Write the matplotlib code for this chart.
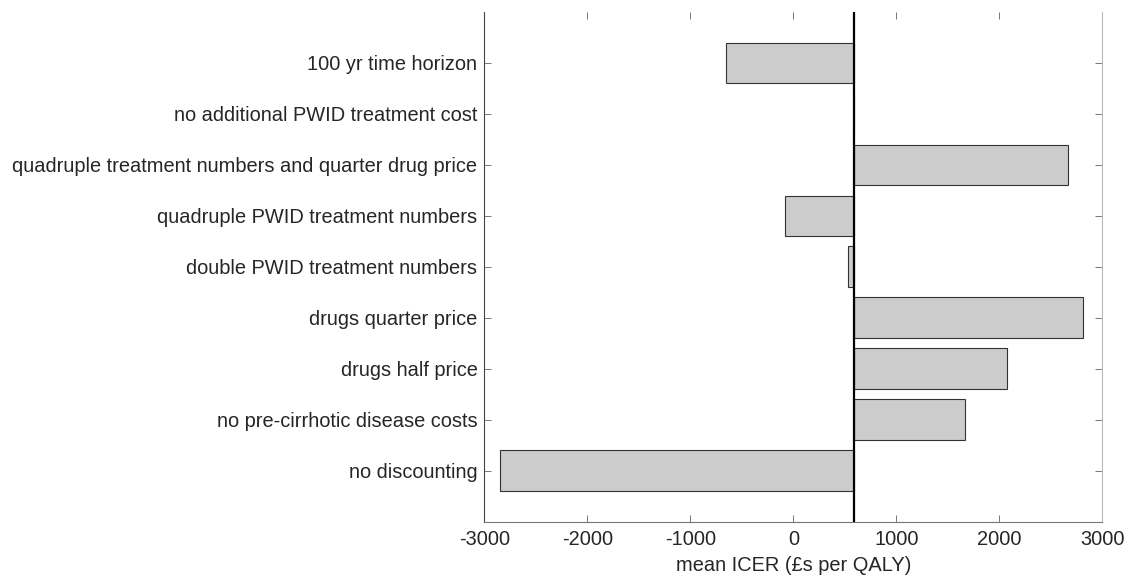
import numpy as np
import matplotlib
matplotlib.use('Agg')
import matplotlib.pyplot as plt

# scenarios listed bottom to top
scenarios = ['no discounting',
             'no pre-cirrhotic disease costs',
             'drugs half price',
             'drugs quarter price',
             'double PWID treatment numbers',
             'quadruple PWID treatment numbers',
             'quadruple treatment numbers and quarter drug price',
             'no additional PWID treatment cost',
             '100 yr time horizon']
icer = [-2845, 1666, 2075, 2811, 533, -77, 2665, 593, -652]
base_icer = 593
xticks = [-3000, -2000, -1000, 0, 1000, 2000, 3000]

plt.rcParams['font.family'] = ['Liberation Sans', 'DejaVu Sans']
plt.rcParams['axes.unicode_minus'] = False

fig = plt.figure(figsize=(11.29, 5.83), dpi=100)
ax = fig.add_axes([0.429, 0.1051, 0.9764 - 0.429, 0.9794 - 0.1051])

pos = np.arange(1, len(scenarios) + 1)
widths = np.array(icer) - base_icer
ax.barh(pos, widths, left=base_icer, height=0.8, color='#cccccc',
        edgecolor='#333333', linewidth=0.8, zorder=2)
ax.axvline(base_icer, color='black', linewidth=1.6, zorder=3)

ax.set_xlim(-3000, 3000)
ax.set_ylim(0, 10)
ax.set_xticks(xticks)
ax.set_yticks(pos)
ax.set_yticklabels(scenarios)
ax.set_xlabel('mean ICER (£s per QALY)', fontsize=14.4, color='#262626', labelpad=5)

ax.tick_params(axis='both', direction='in', length=5, width=0.7, labelsize=14.4,
               colors='#777777', labelcolor='#262626', pad=5)
ax.tick_params(axis='x', top=True, pad=6)
ax.tick_params(axis='y', right=True)

ax.spines['top'].set_visible(False)
ax.spines['left'].set_color('#444444')
ax.spines['bottom'].set_color('#777777')
ax.spines['right'].set_color('#bbbbbb')
for s in ax.spines.values():
    s.set_linewidth(0.8)

fig.savefig('out.png', dpi=100)
